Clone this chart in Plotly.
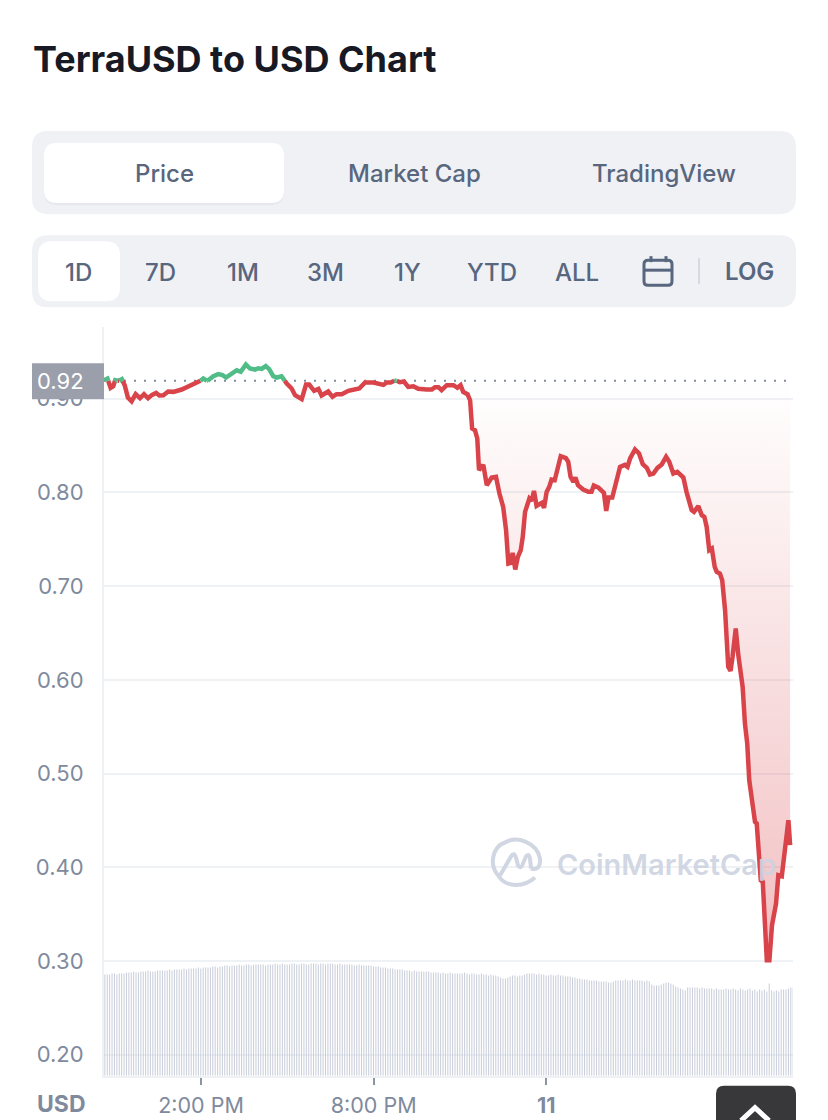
import plotly.graph_objects as go

W, H = 828, 1120

# ---------- data ----------
hours = [10.63,10.75,10.86,10.95,11.02,11.14,11.25,11.35,11.46,11.59,11.73,11.88,12.02,12.16,12.30,12.44,12.55,12.69,12.86,13.04,
13.33,13.62,13.85,14.08,14.22,14.43,14.60,14.75,14.87,15.07,15.24,15.38,15.56,15.70,15.88,15.99,16.11,16.25,16.37,16.51,
16.63,16.80,16.98,17.15,17.27,17.50,17.65,17.76,17.93,18.08,18.19,18.42,18.57,18.71,18.89,19.12,19.29,19.50,19.70,19.99,
20.34,20.45,20.59,20.76,20.91,21.05,21.20,21.38,21.55,21.84,22.02,22.13,22.25,22.36,22.54,22.77,22.91,23.02,23.11,23.26,
23.35,23.42,23.52,23.60,23.66,23.81,23.93,24.10,24.25,24.37,24.50,24.60,24.68,24.76,24.83,24.92,25.01,25.11,25.18,25.26,
25.41,25.49,25.57,25.66,25.84,25.92,26.01,26.10,26.18,26.29,26.42,26.50,26.68,26.76,26.84,26.94,27.01,27.10,27.28,27.46,
27.57,27.65,27.81,28.00,28.08,28.16,28.29,28.38,28.56,28.73,28.82,28.91,29.08,29.22,29.35,29.49,29.60,29.72,29.86,30.01,
30.16,30.27,30.41,30.55,30.76,30.87,31.05,31.13,31.28,31.40,31.49,31.57,31.66,31.75,31.85,31.92,32.03,32.11,32.21,32.32,
32.40,32.47,32.58,32.67,32.82,32.90,32.98,33.05,33.13,33.25,33.31,33.38,33.45,33.52,33.59,33.66,33.75,33.84,33.98,34.06,
34.18,34.23,34.35,34.41,34.47]
price = [.9198,.9215,.9116,.9133,.9198,.9190,.9208,.9144,.9013,.8973,.9048,.9005,.9048,.9005,.9041,.9062,.9034,.9037,.9077,.9073,
.9098,.9137,.9162,.9215,.9190,.9240,.9262,.9251,.9226,.9262,.9304,.9287,.9365,.9322,.9311,.9325,.9318,.9347,.9315,.9240,
.9226,.9240,.9162,.9109,.9037,.8995,.9151,.9151,.9084,.9105,.9034,.9077,.9020,.9048,.9048,.9084,.9098,.9109,.9173,.9173,
.9148,.9173,.9173,.9198,.9176,.9183,.9126,.9133,.9105,.9098,.9098,.9123,.9123,.9091,.9144,.9144,.9116,.9144,.9073,.9048,
.8984,.8682,.8664,.8575,.8237,.8294,.8077,.8159,.8166,.7988,.7846,.7597,.7241,.7248,.7355,.7177,.7312,.7383,.7525,.7792,
.7935,.7910,.8016,.7856,.7888,.7835,.8006,.8059,.8137,.8130,.8308,.8386,.8365,.8326,.8166,.8112,.8159,.8077,.8031,.8006,
.8006,.8073,.8052,.7995,.7803,.7945,.7945,.8059,.8273,.8294,.8273,.8362,.8458,.8415,.8301,.8262,.8191,.8201,.8262,.8298,
.8379,.8326,.8201,.8219,.8159,.8006,.7810,.7792,.7853,.7757,.7739,.7632,.7383,.7401,.7205,.7152,.7134,.7063,.6743,.6138,
.6095,.6245,.6547,.6263,.5925,.5533,.5320,.4928,.4715,.4484,.4466,.4075,.3861,.3843,.3505,.3007,.3007,.3381,.3612,.3915,
.3904,.4039,.4395,.4502,.4235]
baseline_price = 0.9192

volume = [101,101,101,102,102,101,102,102,102,103,103,103,104,103,103,104,104,104,105,104,
104,104,105,105,105,105,105,106,105,106,106,106,106,107,106,107,107,107,107,108,
107,108,108,108,108,109,109,108,109,109,110,110,109,110,110,110,111,110,110,111,111,110,111,111,111,
111,111,110,111,111,111,112,111,111,112,111,111,111,112,112,111,111,112,112,111,
111,112,112,112,111,112,112,111,112,112,112,111,111,112,111,111,111,111,111,110,110,111,110,110,110,110,110,
109,109,109,108,108,108,107,107,107,106,106,106,106,105,105,105,104,105,104,104,104,
104,104,104,103,103,103,103,102,103,102,102,103,102,102,102,102,102,103,102,101,102,102,101,101,102,101,101,100,101,100,100,99,98,97,
97,98,99,100,100,99,100,100,101,102,102,102,102,101,102,
101,101,100,100,101,100,100,101,100,100,99,99,99,98,98,97,97,96,
96,96,95,95,95,95,94,94,94,94,93,93,94,95,
95,95,95,96,95,95,96,95,95,95,95,94,95,94,91,
90,90,90,91,92,93,93,92,91,89,88,
87,86,85,88,88,88,88,88,87,88,87,87,87,87,86,87,86,86,86,87,86,86,87,86,85,87,86,85,86,87,85,86,84,86,85,86,84,92,85,84,85,84,86,86,86,87,88,88]
volume_start_hour = 10.66
volume_step_hours = 5 / 60

y_ticks = [0.20, 0.30, 0.40, 0.50, 0.60, 0.70, 0.80, 0.90]
x_ticks = [14, 20, 26]
x_tick_labels = ["2:00 PM", "8:00 PM", "<b>11</b>"]
tabs = ["Price", "Market Cap", "TradingView"]
ranges = ["1D", "7D", "1M", "3M", "1Y", "YTD", "ALL"]

# ---------- colours ----------
RED, GREEN = "#d9434a", "#50bd88"
GRID, PANEL, GREY, SLATE = "#eff2f5", "#eff1f5", "#808a9d", "#58667e"
MARK = "rgba(205,211,225,0.92)"


# ---------- split the line where it crosses the reference price ----------
def split_at_baseline(xs, ys, base):
    up, down = ([xs[0]], [ys[0] if ys[0] >= base else None]), ([xs[0]], [ys[0] if ys[0] <= base else None])
    for i in range(1, len(xs)):
        x0, y0, x1, y1 = xs[i - 1], ys[i - 1], xs[i], ys[i]
        if (y0 - base) * (y1 - base) < 0:
            xc = x0 + (x1 - x0) * (base - y0) / (y1 - y0)
            for s in (up, down):
                s[0].append(xc)
                s[1].append(base)
        up[0].append(x1)
        up[1].append(y1 if y1 >= base else None)
        down[0].append(x1)
        down[1].append(y1 if y1 <= base else None)
    return up, down


up, down = split_at_baseline(hours, price, baseline_price)
fill_x = down[0]
fill_y = [baseline_price if v is None else v for v in down[1]]

# ---------- pixel helpers for page furniture ----------
px = lambda v: v / W
py = lambda v: 1 - v * 1.0006 / H


def P(x, y):
    return f"{px(x):.5f},{py(y):.5f}"


def rr(x0, y0, x1, y1, r):
    return (f"M{P(x0 + r, y0)} L{P(x1 - r, y0)} Q{P(x1, y0)} {P(x1, y0 + r)} L{P(x1, y1 - r)} "
            f"Q{P(x1, y1)} {P(x1 - r, y1)} L{P(x0 + r, y1)} Q{P(x0, y1)} {P(x0, y1 - r)} "
            f"L{P(x0, y0 + r)} Q{P(x0, y0)} {P(x0 + r, y0)} Z")


def box(x0, y0, x1, y1, r, fill, layer="above", line=None, lw=0):
    return dict(type="path", xref="paper", yref="paper", path=rr(x0, y0, x1, y1, r), fillcolor=fill,
                line=dict(color=line or fill, width=lw), layer=layer)


def stroke(path, color, width):
    return dict(type="path", xref="paper", yref="paper", path=path, line=dict(color=color, width=width),
                fillcolor="rgba(0,0,0,0)", layer="above")


def label(x, y, text, size, color=SLATE, anchor="center", weight=500):
    return dict(xref="paper", yref="paper", x=px(x), y=py(y), text=text, showarrow=False, xanchor=anchor,
                yanchor="middle", font=dict(family="Inter", size=size, color=color, weight=weight))


# ---------- traces ----------
fig = go.Figure()
fig.add_trace(go.Bar(x=[volume_start_hour + i * volume_step_hours for i in range(len(volume))], y=volume,
                     width=0.0348, marker=dict(color="rgba(198,203,216,0.97)", line=dict(width=0)), yaxis="y2",
                     hoverinfo="skip"))
fig.add_trace(go.Scatter(x=fill_x + fill_x[::-1], y=fill_y + [baseline_price] * len(fill_x), mode="lines",
                         line=dict(width=0), fill="toself", hoverinfo="skip",
                         fillgradient=dict(type="vertical", start=baseline_price, stop=0.30,
                                           colorscale=[[0, "rgba(217,67,74,0.0)"], [1, "rgba(217,67,74,0.34)"]])))
fig.add_trace(go.Scatter(x=[hours[0], 34.47], y=[baseline_price, baseline_price], mode="lines",
                         line=dict(color=GREY, width=2, dash="2px,8px"), hoverinfo="skip"))
fig.add_trace(go.Scatter(x=down[0], y=down[1], mode="lines", connectgaps=False,
                         line=dict(color=RED, width=4.5), hoverinfo="skip"))
fig.add_trace(go.Scatter(x=up[0], y=up[1], mode="lines", connectgaps=False,
                         line=dict(color=GREEN, width=4.5), hoverinfo="skip"))

# ---------- page furniture ----------
shapes = [
    box(32, 131, 796, 214, 16, PANEL, "below"),
    box(44, 145, 284, 205, 13, "#e6e8ee", "below"),
    box(44, 143, 284, 203, 13, "#ffffff", "below"),
    box(32, 235, 796, 307, 16, PANEL, "below"),
    box(38, 241, 120, 301, 14, "#ffffff", "below"),
    box(644, 260, 672, 285, 4, "rgba(0,0,0,0)", "above", SLATE, 3),
    stroke(f"M{P(644, 270)} L{P(672, 270)}", SLATE, 3),
    stroke(f"M{P(651, 256)} L{P(651, 262)}", SLATE, 3),
    stroke(f"M{P(666, 256)} L{P(666, 262)}", SLATE, 3),
    stroke(f"M{P(699, 258)} L{P(699, 284)}", "#d5d9e1", 2),
    box(32, 363, 104, 399, 0, "#9a9fab"),
    box(716, 1085, 796, 1140, 8, "#38383b"),
    stroke(f"M{P(741, 1120)} L{P(755, 1107)} L{P(769, 1120)}", "#ffffff", 5),
    # CoinMarketCap mark
    stroke(f"M{P(535, 877)} C{P(524, 887)} {P(506, 887)} {P(499, 876)} C{P(488, 864)} {P(493, 846)} {P(505, 842)} "
           f"C{P(517, 835)} {P(537, 842)} {P(540, 858)} C{P(541, 866)} {P(537, 870)} {P(531, 868)}", MARK, 4),
    stroke(f"M{P(500, 875)} L{P(511, 856)} Q{P(514, 851)} {P(516, 857)} L{P(518, 865)} Q{P(521, 869)} {P(523, 863)} "
           f"L{P(526, 856)} Q{P(529, 852)} {P(530, 858)} L{P(531, 868)}", MARK, 4),
]

annotations = [
    label(30.5, 59, "<b>TerraUSD to USD Chart</b>", 36, "#171924", "left", 700),
    label(164, 173, tabs[0], 24), label(414, 173, tabs[1], 24), label(664, 173, tabs[2], 24),
    label(749, 271, "LOG", 24, SLATE, "center", 600),
    label(61, 381, "0.92", 22, "#ffffff", "center", 400),
    label(61.5, 1103, "USD", 23, GREY, "center", 700),
    label(666, 864, "CoinMarketCap", 29, MARK, "center", 600),
]
for name, cx in zip(ranges, [78, 160, 243, 325, 407, 492, 577]):
    annotations.append(label(cx, 272, name, 24))

fig.update_layout(
    width=W, height=H, margin=dict(l=0, r=0, t=0, b=0), autosize=False, showlegend=False, barmode="overlay",
    paper_bgcolor="#ffffff", plot_bgcolor="#ffffff", font=dict(family="Inter", color=GREY), hovermode=False,
    shapes=shapes, annotations=annotations,
    xaxis=dict(domain=[px(104), px(793)], range=[10.63, 34.57], tickmode="array", tickvals=x_ticks,
               ticktext=x_tick_labels, ticks="outside", ticklen=7, tickwidth=2, tickcolor="#8d94a5",
               tickfont=dict(family="Inter", size=21.5, color=GREY), showgrid=False, zeroline=False,
               showline=True, linecolor=GRID, linewidth=2, ticklabelstandoff=3),
    yaxis=dict(domain=[py(1075), py(327)], range=[0.1776, 0.9763], tickmode="array", tickvals=y_ticks,
               tickformat=".2f", tickfont=dict(family="Inter", size=22, color=GREY), showgrid=True,
               gridcolor=GRID, gridwidth=2, zeroline=False, showline=True, linecolor=GRID, linewidth=2,
               ticks="", ticklabelstandoff=14),
    yaxis2=dict(domain=[py(1075), py(327)], range=[0, 748], overlaying="y", visible=False),
)

fig.write_html("out.html", config=dict(displayModeBar=False),
               post_script="document.body.style.margin='0';document.documentElement.style.overflow='hidden';")
